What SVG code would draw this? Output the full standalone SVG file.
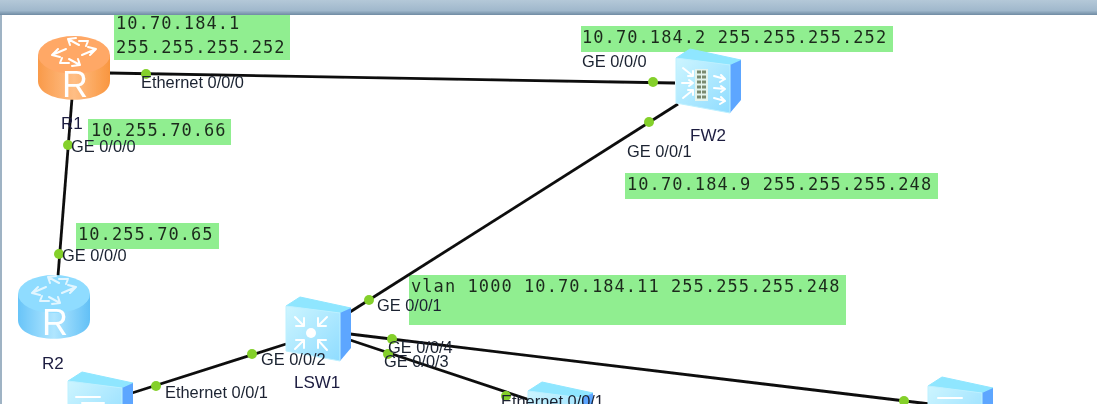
<svg xmlns="http://www.w3.org/2000/svg" width="1097" height="404" viewBox="0 0 1097 404">
<style>
.box{fill:#90ee90}
.ip{font-family:"DejaVu Sans Mono",monospace;font-size:17px;letter-spacing:1.07px;fill:#1c2a1c}
.lb{font-family:"Liberation Sans",Arial,sans-serif;font-size:16.4px;fill:#1a2230}
.nm{font-family:"Liberation Sans",Arial,sans-serif;font-size:17px;fill:#1c1c40}
.rr{font-family:"Liberation Sans",Arial,sans-serif;font-size:36px;fill:#fff}
.ln{stroke:#0c0c0c;stroke-width:2.8;fill:none}
.dot{fill:#84d02c}
.gl{fill:none;stroke:#fff;stroke-width:2;stroke-linecap:round;stroke-linejoin:round}
</style>
<defs>
<filter id="soft" x="0" y="0" width="100%" height="100%"><feGaussianBlur stdDeviation="0.4"/></filter>
<linearGradient id="bar" x1="0" y1="0" x2="0" y2="1"><stop offset="0" stop-color="#b4c8d8"/><stop offset=".7" stop-color="#a0b8cc"/><stop offset="1" stop-color="#6f8ba3"/></linearGradient>
<linearGradient id="org" x1="0" y1="0" x2="1" y2="0"><stop offset="0" stop-color="#f99a4a"/><stop offset=".5" stop-color="#ffbe85"/><stop offset="1" stop-color="#f9963f"/></linearGradient>
<linearGradient id="blu" x1="0" y1="0" x2="1" y2="0"><stop offset="0" stop-color="#68c4f8"/><stop offset=".5" stop-color="#b0e6ff"/><stop offset="1" stop-color="#62c0f6"/></linearGradient>
<linearGradient id="face" x1="0" y1="0" x2="1" y2="1"><stop offset="0" stop-color="#cdf5ff"/><stop offset="1" stop-color="#8fdcff"/></linearGradient>
<g id="arrows">
<path class="gl" d="M-22 3 L-8 -3 M-22 3 L-16 -3 M-22 3 L-14 5"/>
<path class="gl" d="M22 -3 L8 3 M22 -3 L16 3 M22 -3 L14 -5"/>
<path class="gl" d="M-6 -13 L5 -7 M-6 -13 L2 -14 M-6 -13 L-4 -7"/>
<path class="gl" d="M6 13 L-5 7 M6 13 L-2 14 M6 13 L4 7"/>
<path class="gl" d="M14 -11 L5 -11 M14 -11 L12 -6"/>
<path class="gl" d="M-14 11 L-5 11 M-14 11 L-12 6"/>
</g>
<g id="box3d">
<path d="M1 9 L15 0 L66 11 L55 16 Z" fill="#8fe6ff" stroke="#8fe6ff" stroke-linejoin="round"/>
<path d="M55 16 L66 11 L66 51 L55 64 Z" fill="#5da6ff"/>
<path d="M1 9 L55 16 L55 64 L1 54 Z" fill="url(#face)" stroke="#bdf0ff" stroke-linejoin="round"/>
</g>
</defs>
<rect width="1097" height="404" fill="#fff"/>
<g filter="url(#soft)">
<rect width="1097" height="15" fill="url(#bar)"/>
<rect x="0" y="15" width="2" height="389" fill="#9fb3c4"/>
<g id="ipboxes">
<rect class="box" x="114" y="15" width="176" height="45"/>
<text class="ip" x="116" y="29">10.70.184.1</text>
<text class="ip" x="116" y="53">255.255.255.252</text>
<rect class="box" x="581" y="26" width="312" height="26"/>
<text class="ip" x="582" y="43">10.70.184.2 255.255.255.252</text>
<rect class="box" x="88" y="119" width="143" height="26"/>
<text class="ip" x="91" y="136">10.255.70.66</text>
<rect class="box" x="625" y="173" width="313" height="26"/>
<text class="ip" x="627" y="190">10.70.184.9 255.255.255.248</text>
<rect class="box" x="76" y="223" width="143" height="26"/>
<text class="ip" x="78" y="240">10.255.70.65</text>
<rect class="box" x="409" y="275" width="437" height="50"/>
<text class="ip" x="411" y="292">vlan 1000 10.70.184.11 255.255.255.248</text>
</g>
<g id="connectors">
<path class="ln" d="M108 73 L675 83"/>
<path class="ln" d="M72 98 L58 276"/>
<path class="ln" d="M678 104 L350 312"/>
<path class="ln" d="M286 344 L132 393"/>
<path class="ln" d="M350 334 L930 404"/>
<path class="ln" d="M350 340 L530 400"/>
</g>
<g id="ports">
<circle class="dot" cx="146" cy="74" r="5"/>
<circle class="dot" cx="653" cy="82" r="5"/>
<circle class="dot" cx="649" cy="122" r="5"/>
<circle class="dot" cx="68" cy="145" r="5"/>
<circle class="dot" cx="59" cy="254" r="5"/>
<circle class="dot" cx="369" cy="300" r="5"/>
<circle class="dot" cx="252" cy="354" r="5"/>
<circle class="dot" cx="156" cy="386" r="5"/>
<circle class="dot" cx="392" cy="339" r="5"/>
<circle class="dot" cx="388" cy="354" r="5"/>
<circle class="dot" cx="506" cy="396" r="5"/>
<circle class="dot" cx="904" cy="401" r="5"/>
</g>
<g id="R1">
<path d="M38 55 V81 C38 106 110 106 110 81 V55 Z" fill="url(#org)"/>
<ellipse cx="74" cy="55" rx="36" ry="19" fill="#ffa866"/>
<use href="#arrows" transform="translate(74 52)"/>
<text class="rr" x="75" y="97" text-anchor="middle">R</text>
<text class="nm" x="61" y="129">R1</text>
</g>
<g id="R2">
<path d="M18 294 V320 C18 345 90 345 90 320 V294 Z" fill="url(#blu)"/>
<ellipse cx="54" cy="294" rx="36" ry="19" fill="#8fdcff"/>
<use href="#arrows" transform="translate(54 290)" opacity=".75"/>
<text class="rr" x="55" y="335" text-anchor="middle">R</text>
<text class="nm" x="42" y="369">R2</text>
</g>
<g id="FW2">
<use href="#box3d" transform="translate(675 49)"/>
<path class="gl" stroke-width="1.6" d="M683 68 L693 76 M693 76 H688 M693 76 V71 M682 83 H693 M693 83 L689 80 M693 83 L689 86 M683 98 L693 90 M693 90 H688 M693 90 V95 M714 76 L725 79 M725 79 L721 75 M725 79 L720 82 M714 88 L725 89 M725 89 L721 86 M725 89 L721 92 M714 98 L725 101 M725 101 L721 97 M725 101 L720 104"/>
<rect x="695" y="69" width="13" height="32" fill="#e4f4ee"/>
<path d="M697 72 H706 M697 77 H706 M697 82 H706 M697 87 H706 M697 92 H706 M697 97 H706" stroke="#7a8a70" stroke-width="3" stroke-dasharray="4 1"/>
<text class="nm" x="690" y="141">FW2</text>
</g>
<g id="LSW1">
<use href="#box3d" transform="translate(285 297)"/>
<circle cx="311" cy="333" r="5" fill="#fff"/>
<path class="gl" stroke-width="3" d="M295 317 L304 326 M304 326 V318 M304 326 H296 M327 317 L318 326 M318 326 V318 M318 326 H326 M295 349 L304 340 M304 340 V348 M304 340 H296 M327 350 L318 340 M318 340 V348 M318 340 H326"/>
<text class="nm" x="294" y="388">LSW1</text>
</g>
<g id="LSW2">
<use href="#box3d" transform="translate(67 372)"/>
<path class="gl" d="M76 397 H100 M82 403 H104"/>
</g>
<g id="LSW3">
<use href="#box3d" transform="translate(527 382)"/>
</g>
<g id="LSW4">
<use href="#box3d" transform="translate(927 377)"/>
<path class="gl" d="M938 398 H962"/>
</g>
<g id="portlabels">
<text class="lb" x="141" y="88">Ethernet 0/0/0</text>
<text class="lb" x="582" y="67">GE 0/0/0</text>
<text class="lb" x="627" y="157">GE 0/0/1</text>
<text class="lb" x="71" y="152">GE 0/0/0</text>
<text class="lb" x="62" y="261">GE 0/0/0</text>
<text class="lb" x="377" y="311">GE 0/0/1</text>
<text class="lb" x="261" y="365">GE 0/0/2</text>
<text class="lb" x="165" y="398">Ethernet 0/0/1</text>
<text class="lb" x="388" y="353">GE 0/0/4</text>
<text class="lb" x="384" y="367">GE 0/0/3</text>
<text class="lb" x="501" y="407">Ethernet 0/0/1</text>
</g>
</g>
</svg>
